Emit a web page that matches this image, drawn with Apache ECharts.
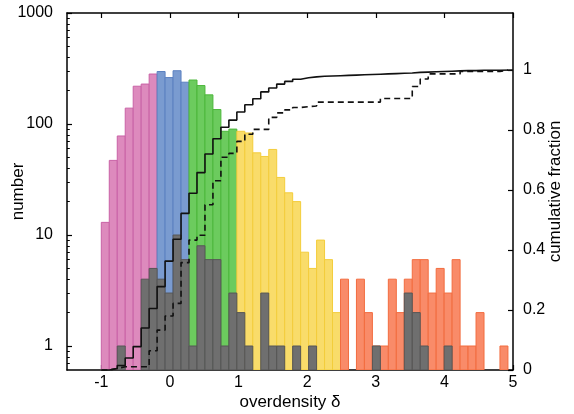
<!DOCTYPE html>
<html>
<head>
<meta charset="utf-8">
<script src="https://cdn.jsdelivr.net/npm/echarts@6/dist/echarts.min.js"></script>
<style>
html,body{margin:0;padding:0;background:#fff;}
#chart{width:574px;height:414px;}
</style>
</head>
<body>
<div id="chart"></div>
<script>
// ---- data ----
const binStart = -1.0;
const binWidth = 0.1162;
const totalCounts = [13,47,78,139,219,229,282,297,262,302,238,249,222,183,135,86,90,86,83,55,
  51,59,33,24,20,7,5,9,6,2,4,0,4,2,1,1,4,2,4,6,6,3,5,3,6,1,1,2,0,0,1];
const grayCounts = [0,0,1,0,0,4,5,4,3,10,6,1,8,6,6,1,3,2,1,0,
  3,1,1,0,1,0,1,0,0,0,0,0,0,0,1,0,0,0,3,2,1,0,0,1,0,0,0,0,0,0,0];
const groupFirstBin = [0, 7, 11, 17, 30]; // pink, blue, green, yellow, orange
const cumSolid = [0,0.005,0.015,0.04,0.078,0.14,0.205,0.278,0.363,0.436,0.522,0.589,0.658,0.72,0.771,
  0.809,0.833,0.86,0.884,0.904,0.927,0.94,0.953,0.962,0.969,0.974,0.977,0.979,0.98,0.981,0.982,
  0.983,0.984,0.985,0.986,0.987,0.988,0.989,0.99,0.992,0.993,0.994,0.995,0.996,0.997,0.998,0.998,
  0.999,0.999,0.999,1.0];
const cumDashed = [0,0.005,0.011,0.011,0.011,0.011,0.064,0.133,0.18,0.222,0.358,0.433,0.449,0.551,
  0.631,0.709,0.722,0.762,0.786,0.802,0.802,0.842,0.857,0.867,0.875,0.878,0.88,0.893,0.893,0.893,
  0.893,0.893,0.893,0.893,0.893,0.905,0.905,0.905,0.905,0.945,0.97,0.987,0.987,0.987,0.987,0.995,
  0.995,0.995,0.995,0.995,1.0];
const xTicks = [-1,0,1,2,3,4,5];
const yTicks = [1,10,100,1000];
const yMinorTicks = [0.7,0.8,0.9,2,3,4,5,6,7,8,9,20,30,40,50,60,70,80,90,200,300,400,500,600,700,800,900];
const fracTicks = [0,0.2,0.4,0.6,0.8,1];

// ---- styles ----
const X_MIN = -1.5, X_MAX = 5, Y_MIN = 0.608, Y_MAX = 1000, F_MAX = 1.19;
const fills = ['#dd8abd','#7a9bd0','#6ccb5e','#f9dc6a','#f98b69'];
const strokes = ['#c962a6','#5b80c0','#4cb73b','#f3cd3b','#f26c3f'];
const FONT = 'Liberation Sans';

function groupOf(i){ let g=0; for(let k=0;k<groupFirstBin.length;k++){ if(i>=groupFirstBin[k]) g=k; } return g; }

const colorData = [], grayData = [], solidData = [], dashedData = [];
for (let i=0;i<totalCounts.length;i++){
  const x0 = binStart + i*binWidth, x1 = x0 + binWidth;
  if (totalCounts[i] > 0) colorData.push([x0, x1, totalCounts[i], groupOf(i)]);
  if (grayCounts[i] > 0) grayData.push([x0, x1, grayCounts[i]]);
  solidData.push([x0, cumSolid[i]]);
  dashedData.push([x0, cumDashed[i]]);
}
const lastEdge = binStart + totalCounts.length*binWidth;
solidData.push([X_MAX, cumSolid[cumSolid.length-1]]);
dashedData.push([lastEdge, cumDashed[cumDashed.length-1]]);

function rectRender(kind){
  return function(params, api){
    const x0 = api.value(0), x1 = api.value(1), n = api.value(2);
    const p0 = api.coord([x0, n]);
    const p1 = api.coord([x1, Y_MIN]);
    let fill, stroke;
    if (kind === 'gray') { fill = '#6f6f6f'; stroke = '#565656'; }
    else { const g = api.value(3); fill = fills[g]; stroke = strokes[g]; }
    return {
      type:'rect',
      shape:{x:p0[0], y:p0[1], width:p1[0]-p0[0], height:p1[1]-p0[1]},
      style:{fill:fill, stroke:stroke, lineWidth:1}
    };
  };
}

const chart = echarts.init(document.getElementById('chart'), null, {renderer:'canvas'});
const lbl = {color:'#000', fontFamily:FONT, fontSize:16};
chart.setOption({
  animation:false,
  backgroundColor:'#fff',
  grid:{left:67, top:13, width:446, height:357, containLabel:false, outerBoundsMode:'none'},
  xAxis:[
    {type:'value', min:X_MIN, max:X_MAX, position:'bottom',
     name:'overdensity δ', nameLocation:'middle', nameGap:24, nameMoveOverlap:false,
     nameTextStyle:{color:'#000', fontFamily:FONT, fontSize:17},
     axisLine:{onZero:false, lineStyle:{color:'#000', width:1.5}},
     axisTick:{inside:true, length:5, customValues:xTicks, lineStyle:{color:'#000', width:1.2}},
     axisLabel:Object.assign({customValues:xTicks, margin:5, formatter:v=>String(v)}, lbl),
     splitLine:{show:false}},
    {type:'value', min:X_MIN, max:X_MAX, position:'top',
     axisLine:{onZero:false, lineStyle:{color:'#000', width:1.5}},
     axisTick:{inside:true, length:5, customValues:xTicks, lineStyle:{color:'#000', width:1.2}},
     axisLabel:{show:false}, splitLine:{show:false}}
  ],
  yAxis:[
    {type:'log', logBase:10, min:Y_MIN, max:Y_MAX, position:'left',
     name:'number', nameLocation:'middle', nameGap:40, nameRotate:90, nameMoveOverlap:false,
     nameTextStyle:{color:'#000', fontFamily:FONT, fontSize:17},
     axisLine:{show:true, onZero:false, lineStyle:{color:'#000', width:1.5}},
     axisTick:{inside:true, length:5, customValues:yTicks, lineStyle:{color:'#000', width:1.2}},
     axisLabel:Object.assign({customValues:yTicks, margin:14, formatter:v=>String(Math.round(v))}, lbl),
     splitLine:{show:false}},
    {type:'log', logBase:10, min:Y_MIN, max:Y_MAX, position:'left',
     axisLine:{show:false, onZero:false},
     axisTick:{inside:true, length:2.8, customValues:yMinorTicks, lineStyle:{color:'#000', width:1}},
     axisLabel:{show:false}, splitLine:{show:false}},
    {type:'value', min:0, max:F_MAX, position:'right',
     name:'cumulative fraction', nameLocation:'middle', nameGap:34, nameRotate:90, nameMoveOverlap:false,
     nameTextStyle:{color:'#000', fontFamily:FONT, fontSize:17},
     axisLine:{show:true, onZero:false, lineStyle:{color:'#000', width:1.5}},
     axisTick:{inside:true, length:5, customValues:fracTicks, lineStyle:{color:'#000', width:1.2}},
     axisLabel:Object.assign({customValues:fracTicks, margin:10, formatter:v=>String(+v.toFixed(1))}, lbl),
     splitLine:{show:false}}
  ],
  series:[
    {type:'custom', xAxisIndex:0, yAxisIndex:0, renderItem:rectRender('color'),
     encode:{x:[0,1], y:2}, data:colorData, clip:true, z:2},
    {type:'custom', xAxisIndex:0, yAxisIndex:0, renderItem:rectRender('gray'),
     encode:{x:[0,1], y:2}, data:grayData, clip:true, z:3},
    {type:'line', xAxisIndex:0, yAxisIndex:2, step:'end', showSymbol:false, symbol:'none',
     data:solidData, lineStyle:{color:'#111', width:1.6}, z:5},
    {type:'line', xAxisIndex:0, yAxisIndex:2, step:'end', showSymbol:false, symbol:'none',
     data:dashedData, lineStyle:{color:'#111', width:1.6, type:[6,4]}, z:5}
  ]
});
</script>
</body>
</html>
